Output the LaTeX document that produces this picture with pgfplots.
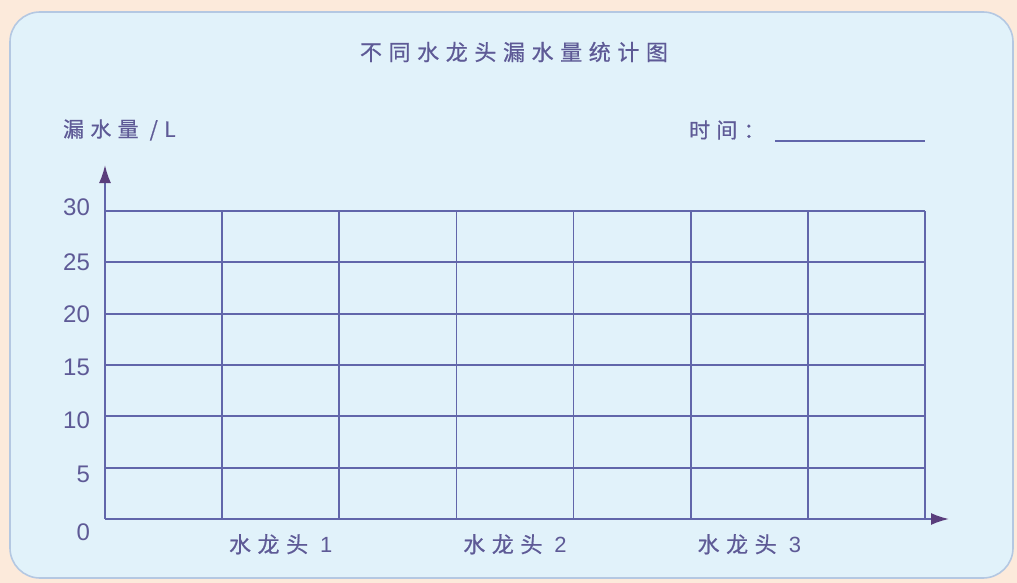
\documentclass[border=0pt]{standalone}
\usepackage{pgfplots}
\pgfplotsset{compat=1.18}
\usepackage{fontspec}
\setmainfont{Liberation Sans}
\newfontfamily\cjk{Noto Sans CJK SC}[LetterSpace=30,FakeBold=0.6]
\usetikzlibrary{arrows.meta}
\definecolor{peach}{HTML}{FCEADB}
\definecolor{panel}{HTML}{E1F2FA}
\definecolor{panelline}{HTML}{B4C8E2}
\definecolor{gridc}{HTML}{6166AA}
\definecolor{txt}{HTML}{5E5A96}
\definecolor{arrowc}{HTML}{5A3E7C}
% shift a tick label without moving its box
\newcommand{\lift}[2]{\raisebox{#1}[\height][\depth]{#2}}
% category label: Chinese word, a gap, then the number
\newcommand{\tap}[1]{\mbox{{\cjk 水龙头}\kern6pt #1}}
\begin{document}
\begin{tikzpicture}
% background, placed in pixel units of the reference (1 px = 0.5 pt)
\begin{scope}[x=0.5pt,y=-0.5pt,shift={(-105,-519)}]
  \fill[peach] (0,0) rectangle (1017,583);
  \filldraw[fill=panel,draw=panelline,line width=0.8pt,rounded corners=15pt]
    (10,12) rectangle (1013,578);
\end{scope}
\begin{axis}[
    at={(0,0)}, anchor=origin,
    scale only axis,
    width=410pt, height=154pt,
    xmin=0, xmax=7,
    ymin=0, ymax=30,
    axis x line*=bottom,
    axis y line*=left,
    axis line style={gridc, line width=0.9pt},
    x axis line style={-{Latex[length=9pt,width=6pt,color=arrowc]}, shorten >=-12pt},
    y axis line style={-{Latex[length=9pt,width=6pt,color=arrowc]}, shorten >=-23pt},
    xtick={0,1,...,7},
    xticklabels={},
    ytick={0,5,...,30},
    yticklabels={\lift{-6.5pt}{0},\lift{-3.5pt}{5},\lift{-2pt}{10},\lift{-1pt}{15},
                 \lift{-0.5pt}{20},{25},\lift{2pt}{30}},
    yticklabel style={font=\fontsize{12}{14}\selectfont, text=txt, xshift=-4pt},
    major tick length=0pt,
    xmajorgrids, ymajorgrids,
    grid style={gridc, line width=0.9pt},
    extra x ticks={1.5,3.5,5.5},
    extra x tick labels={\tap{1},\tap{2},\tap{3}},
    extra x tick style={grid=none, major tick length=0pt,
      xticklabel style={font=\fontsize{11}{13}\selectfont, text=txt, yshift=-4pt}},
    /pgf/number format/assume math mode=true,
    clip=false,
]
\end{axis}
\begin{scope}[x=0.5pt,y=-0.5pt,shift={(-105,-519)}]
  \node[text=txt, font=\cjk\fontsize{11}{13}\selectfont] at (514,52) {不同水龙头漏水量统计图};
  \node[text=txt, font=\cjk\fontsize{10.5}{12}\selectfont, anchor=west] at (56,130) {漏水量 /L};
  \node[text=txt, font=\cjk\fontsize{10.5}{12}\selectfont, anchor=west] at (682,130) {时间：};
  \draw[gridc, line width=0.7pt] (775,141) -- (925,141);
\end{scope}
\end{tikzpicture}
\end{document}
